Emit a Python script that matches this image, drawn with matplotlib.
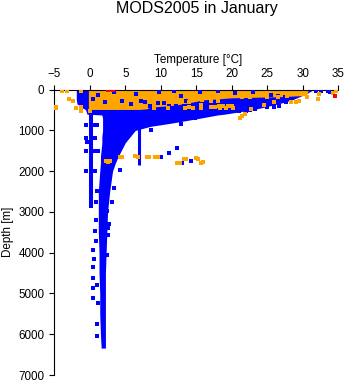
import matplotlib.pyplot as plt

plt.rcParams['font.family'] = ['Liberation Sans', 'DejaVu Sans']

# bulk of the blue profiles: depth [m] with coldest / warmest temperature [deg C]
env_depth = [0, 100, 250, 350, 450, 490, 600, 620, 700, 760, 820, 900, 1000, 1150,
             1300, 1470, 1640, 1800, 2000, 2500, 3000, 3500, 4000, 4500, 5000, 5500,
             6000, 6340]
env_cold = [-1.9, -1.9, -1.9, -1.8, -1.0, -0.6, -0.4, 1.7, 1.8, 1.8, 1.8, 1.8, 1.8, 1.7,
            1.7, 1.6, 1.5, 1.5, 1.4, 1.2, 1.2, 1.2, 1.3, 1.3, 1.4, 1.4, 1.5, 1.6]
env_warm = [31.5, 30.5, 28.5, 26.5, 24.0, 23.0, 19.0, 18.0, 15.5, 13.5, 11.5, 8.5, 6.4,
            5.7, 5.0, 4.5, 4.0, 3.6, 3.2, 2.8, 2.5, 2.4, 2.3, 2.2, 2.2, 2.2, 2.2, 2.2]

# orange near-surface layer
band_depth = [0, 140, 170, 200, 250, 320, 380, 430, 470, 485]
band_cold = [-0.2, -0.2, -0.2, -0.2, -0.2, -0.2, -0.2, -0.2, -0.2, -0.2]
band_warm = [30.8, 30.5, 27.0, 20.0, 16.0, 14.0, 12.0, 8.5, 8.0, 7.0]

# two single profiles that stand apart
prof_a_temp = [0.2, 0.2]
prof_a_depth = [490, 2900]
prof_b_temp = [6.9, 6.9]
prof_b_depth = [760, 1840]

# scattered blue observations
blue_temp = [12.3, 11.2, 10.0, 13.0, 14.3, 4.3, 3.4, 3.1, 2.7, 2.6,
             0.9, 0.8, 0.5, 0.6, 0.5, 0.4, 0.5, 0.5, 1.0, 0.9, 1.0, 0.9,
             -0.5, 0.7, 1.0, -0.6, 0.8, -0.6, 0.8, 1.1, -0.5, 0.7, -0.4,
             3.3, 8.6, 12.9, 14.8, 17.0, 21.0, 22.0, 22.6, 23.3,
             25.0, 26.0, 26.6, 27.5, 26.0, 27.7, 25.5, 26.5, 27.5,
             32.6, 33.5, 33.9, 31.8,
             0.5, 2.2, 3.4, 4.6, 5.8, 7.2, 7.8, 8.5, 9.6, 10.4, 11.8, 11.2,
             12.2, 13.2, 12.8, 9.8, 13.5, 1.2, 6.5, 15.5, 18.0, 20.5, 23.0,
             1.1, 1.0, 2.5, 2.4, 1.0, 2.4]
blue_depth = [1420, 1560, 1660, 1790, 1760, 1960, 2410, 2760, 3290, 3560,
              3190, 3470, 3930, 4150, 4350, 4620, 4870, 5110, 4800, 3700, 2480, 2750,
              860, 860, 860, 1180, 1180, 1500, 1500, 1500, 2000, 2000, 1290,
              1370, 1000, 850, 700, 600, 520, 520, 510, 480,
              420, 420, 400, 280, 330, 290, 120, 150, 170,
              20, 40, 60, 40,
              220, 300, 50, 280, 350, 280, 300, 390, 330, 330, 30, 400,
              410, 400, 150, 60, 270, 120, 100, 60, 40, 90, 60,
              5230, 5750, 3400, 4060, 6050, 2980]

# scattered orange observations
orange_temp = [-4.7, -4.8, -3.9, -3.2, -2.9, -1.3, -2.3, -2.0, -1.2, -1.2, 0.0,
               32.3, 30.6, 29.0, 28.4, 32.2, 34.2, 34.7, 27.8, 29.5,
               21.4, 21.1, 21.8, 22.7, 24.6, 26.0, 25.0, 26.5,
               15.8, 17.0, 18.1, 14.0, 15.6, 18.2, 18.8, 19.4, 20.0, 21.5, 22.5,
               9.0, 11.0, 13.4, 14.0, 14.6, 15.7, 17.0, 17.6, 18.4, 19.2, 20.2,
               2.3, 2.6, 2.9, 4.2, 4.6, 6.4, 6.8, 8.0, 8.3, 9.2, 9.6,
               12.3, 12.7, 13.2, 13.6, 14.9, 15.3, 15.6, 15.9]
orange_depth = [420, 460, 40, 40, 230, 430, 280, 460, 40, 520, 520,
                100, 180, 300, 300, 220, 70, 20, 150, 270,
                640, 700, 590, 470, 370, 290, 180, 190,
                250, 280, 270, 310, 380, 410, 410, 410, 410, 180, 180,
                440, 440, 440, 430, 440, 440, 430, 430, 450, 450, 440,
                1740, 1780, 1750, 1640, 1660, 1630, 1640, 1650, 1650, 1660, 1650,
                1790, 1790, 1690, 1700, 1680, 1690, 1790, 1770]

# red observations
red_temp = [2.6, 3.2, 34.6]
red_depth = [15, 15, 160]

temp_ticks = [-5, 0, 5, 10, 15, 20, 25, 30, 35]
depth_ticks = [0, 1000, 2000, 3000, 4000, 5000, 6000, 7000]

BLUE = '#0000FF'
ORANGE = '#FFA500'
RED = '#FF0000'

fig = plt.figure(figsize=(3.48, 3.84), dpi=100)
ax = fig.add_axes([54.3 / 348, 9 / 384, 284 / 348, 285.3 / 384])

ax.fill_betweenx(env_depth, env_cold, env_warm, color=BLUE, lw=0, zorder=1)
ax.plot(prof_a_temp, prof_a_depth, color=BLUE, lw=2.9, solid_capstyle='butt', zorder=1)
ax.plot(prof_b_temp, prof_b_depth, color=BLUE, lw=2.2, solid_capstyle='butt', zorder=1)
ax.fill_betweenx(band_depth, band_cold, band_warm, color=ORANGE, lw=0, zorder=2)
ax.scatter(blue_temp, blue_depth, marker='s', s=7, color=BLUE, linewidths=0, zorder=3)
ax.scatter(orange_temp, orange_depth, marker='s', s=7, color=ORANGE, linewidths=0, zorder=4)
ax.scatter(red_temp, red_depth, marker='s', s=7, color=RED, linewidths=0, zorder=5)

ax.set_xlim(-5, 35)
ax.set_ylim(7000, 0)
ax.set_xticks(temp_ticks)
ax.set_yticks(depth_ticks)
ax.xaxis.tick_top()
for side in ['right', 'bottom']:
    ax.spines[side].set_visible(False)
for side in ['left', 'top']:
    ax.spines[side].set_linewidth(0.8)
ax.tick_params(direction='out', length=3.6, width=0.8, labelsize=8.4, pad=3.5)

fig.text(196.5 / 348, 1 - 13 / 384, 'MODS2005 in January', ha='center', va='baseline',
         fontsize=11.5)
fig.text(198 / 348, 1 - 60.5 / 384, 'Temperature [°C]', ha='center', va='center',
         fontsize=8.4)
fig.text(8 / 348, 1 - 232 / 384, 'Depth [m]', ha='center', va='center', rotation=90,
         fontsize=8.4)

fig.savefig('out.png', dpi=100)
